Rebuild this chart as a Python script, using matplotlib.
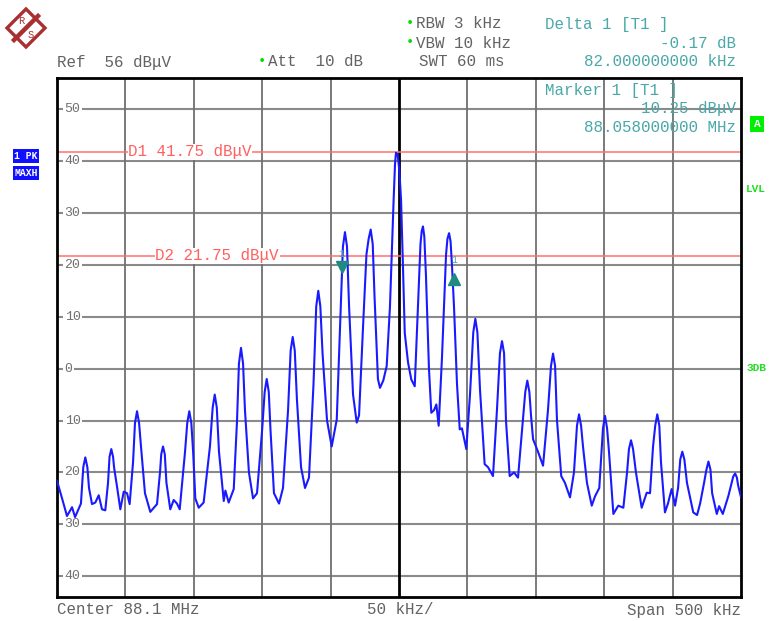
import numpy as np
import matplotlib
matplotlib.use("Agg")
import matplotlib.pyplot as plt
from matplotlib.patches import Polygon
import matplotlib.transforms as mtransforms

# trace: offset from 88.1 MHz (kHz) and level (dBuV)
freq_khz = [-250, -246.3, -242.7, -239, -236.8, -234.1, -232.5, -230.8, -229.3, -227.8,
            -226.6, -224.4, -222, -219.5, -217.1, -214.7, -212.7, -211.6, -210.3, -209,
            -208.3, -206.2, -203.7, -201.2, -198.8, -196.9, -194.4, -193, -191.5, -190,
            -188.6, -185.7, -181.8, -176.9, -174.7, -173.8, -172.5, -171.2, -170, -167.2,
            -164.7, -162.3, -160.3, -156.4, -154.8, -153.3, -151.8, -150.5, -148.9, -146.4,
            -142.8, -138.2, -136.2, -134.7, -133.2, -131.6, -128.1, -126.9, -124.5, -120.8,
            -118.4, -117, -115.5, -114, -112.6, -109.7, -106.7, -103.8, -100.1, -98.2,
            -96.7, -95.2, -93.9, -91.4, -87.7, -84.8, -81.1, -79.2, -77.7, -76.2,
            -74.6, -71.6, -68.7, -65.8, -62.5, -60.5, -59, -57.5, -55.9, -52.6,
            -49.2, -45.5, -42.8, -41, -39.5, -38, -36.5, -33.6, -30.9, -29.2,
            -26.3, -23.8, -22.2, -20.7, -19.2, -17.9, -15.4, -13.9, -11.5, -9,
            -6.6, -4, -2.9, -2.2, -1, 0.3, 1.5, 2.9, 4.2, 6.6,
            9, 11.5, 13.9, 15.7, 16.6, 17.5, 18.5, 19.7, 21.9, 23.6,
            25.6, 27.3, 29, 31.4, 34.4, 35.4, 36.6, 37.7, 38.7, 40.2,
            42.4, 44.4, 46, 49.2, 51.9, 54.3, 55.8, 57.3, 59.2, 62.6,
            65.1, 68.7, 71.6, 73.8, 75.3, 76.8, 78.2, 80.9, 84.1, 87,
            89.9, 92.3, 93.8, 95.3, 96.5, 98, 101.6, 105.3, 108.9, 111.1,
            112.6, 114.1, 115.5, 118.6, 121.3, 125, 127.9, 130.1, 131.6, 133.1,
            134.5, 137.4, 140.9, 143.3, 146.4, 149.1, 150.6, 152.1, 153.5, 156.7,
            160.3, 164, 166.7, 168.1, 169.6, 171.1, 173.2, 177.4, 181.1, 183.5,
            185.7, 187.3, 188.8, 190.3, 191.5, 194.4, 196.6, 199.3, 201.8, 204,
            205.6, 207.1, 208.6, 210.5, 215.1, 217.9, 220.1, 223, 224.7, 226.2,
            227.7, 228.9, 232.3, 234, 236.7, 240.8, 243.2, 244.3, 245.7, 247,
            247.9, 250]
level_dbuv = [-21.6, -25, -28.4, -26.7, -28.6, -27, -26, -19, -17.1, -19,
              -23, -26.1, -25.8, -24.4, -27.1, -27.3, -22, -17, -15.5, -17,
              -19, -22.6, -27.1, -23.7, -24, -26.1, -18, -10.5, -8.2, -10.5,
              -15, -24, -27.6, -26.1, -20, -16.5, -15, -16.5, -22, -27.1,
              -25.3, -26, -27.1, -16, -10.5, -8.2, -10.5, -16, -25, -26.8,
              -25.8, -15, -7.5, -5, -7.5, -16, -25.5, -23.5, -25.8, -23.2,
              -10, 1, 4, 1, -8, -20, -25, -24, -12, -4.5,
              -2, -4.5, -12, -24, -26, -23, -8, 3.5, 6.1, 3.5,
              -6, -19, -23, -21, -3, 12, 15, 12, 3, -10,
              -15, -9.8, 10, 23.5, 26.3, 23.5, 12, -5, -10.4, -9,
              8, 22, 25, 26.8, 24, 14, -2, -3.7, -2.3, 0.5,
              12, 32, 39.5, 41.6, 41.3, 38, 32.5, 19.7, 6.9, 1.2,
              -2.1, -3.4, 12, 24, 26.5, 27.4, 25.5, 18, 0, -8.5,
              -8, -6.9, -11, 2, 22, 25, 26.1, 24.5, 20, 12,
              -3, -11.7, -11.5, -15.5, -5, 7, 9.6, 7, -4, -18.4,
              -19, -20.7, -8, 3, 5.3, 3, -10, -20.7, -20, -21,
              -12, -4.5, -2.3, -4.5, -9, -13.6, -16, -18.7, -8, 0.5,
              2.9, 0.5, -10, -20.7, -22, -24.8, -20, -11, -8.8, -11,
              -15, -22, -26.4, -24.6, -23, -11.5, -9.1, -11.5, -16, -28,
              -26.4, -26.8, -20, -15.5, -13.8, -15.5, -20, -26.8, -23.9, -24,
              -15, -11, -8.8, -11, -18, -27.7, -26, -23.2, -26.4, -23,
              -17.5, -16, -17.5, -22, -27.7, -28.2, -26, -22, -19.5, -17.9,
              -19.5, -24, -28, -26.5, -28, -24.5, -22, -20.8, -20.2, -21,
              -22.5, -24.8]

display_lines = [41.75, 21.75]
display_labels = ["D1 41.75 dB\u03bcV", "D2 21.75 dB\u03bcV"]
display_label_x = [-198, -178]
marker_freq = [-42, 40]
marker_level = [19.5, 17.3]
y_ticks = [50, 40, 30, 20, 10, 0, -10, -20, -30, -40]
y_ticklabels = ["50", "40", "30", "20", "10", "0", "10", "20", "30", "40"]

W, H = 771, 621
mono = "Liberation Mono"
grey = "#636363"
teal = "#4aa8a8"
fs = 11.4

fig = plt.figure(figsize=(W / 100, H / 100), dpi=100)
fig.patch.set_facecolor("white")


def fx(px):
    return px / W


def fy(py):
    return 1 - py / H


ax = fig.add_axes([fx(57), fy(597), fx(741) - fx(57), fy(78) - fy(597)])
ax.set_xlim(-250, 250)
ax.set_ylim(-44, 56)
ax.set_xticks([])
ax.set_yticks([])
for s in ax.spines.values():
    s.set_linewidth(2)
    s.set_color("black")

# grid
for yv in y_ticks:
    ax.axhline(yv, color="#8a8a8a", lw=1.5, zorder=1)
for xv in np.arange(-200, 201, 50):
    if xv == 0:
        ax.axvline(xv, color="black", lw=2, zorder=1)
    else:
        ax.axvline(xv, color="#707070", lw=1.3, zorder=1)

trans = mtransforms.blended_transform_factory(ax.transAxes, ax.transData)
for yv, lab in zip(y_ticks, y_ticklabels):
    ax.text(0.011, yv, lab, transform=trans, ha="left", va="center",
            family=mono, fontsize=9.5, color="#707070", zorder=3,
            bbox=dict(facecolor="white", edgecolor="none", pad=1))

# display lines
for yv, lab, lx in zip(display_lines, display_labels, display_label_x):
    ax.axhline(yv, color="#ff7070", lw=1.1, zorder=2)
    ax.text(lx, yv, lab, ha="left", va="center", family=mono, fontsize=fs,
            color="#ff6060", zorder=3,
            bbox=dict(facecolor="white", edgecolor="none", pad=0.5))

ax.plot(freq_khz, level_dbuv, color="#1a1aff", lw=1.5, zorder=4,
        solid_joinstyle="round")

# markers
ax.plot(marker_freq[0], marker_level[0], marker="v", color="#1f8a80", ms=8, zorder=5)
ax.plot(marker_freq[1], marker_level[1], marker="^", color="#1f8a80", ms=8, zorder=5)
ax.text(marker_freq[0], marker_level[0] + 2.6, "1", ha="center", va="center",
        family=mono, fontsize=7, color=teal, zorder=5)
ax.text(marker_freq[1], marker_level[1] + 3.6, "1", ha="center", va="center",
        family=mono, fontsize=7, color=teal, zorder=5)

# marker readout inside the grid
ax.text(fx(545), fy(90), "Marker 1 [T1 ]", transform=fig.transFigure,
        family=mono, fontsize=fs, color=teal, va="center", ha="left", zorder=3)
ax.text(fx(736), fy(109), "10.25 dB\u03bcV", transform=fig.transFigure,
        family=mono, fontsize=fs, color=teal, va="center", ha="right", zorder=3)
ax.text(fx(736), fy(127), "88.058000000 MHz", transform=fig.transFigure,
        family=mono, fontsize=fs, color=teal, va="center", ha="right", zorder=3)

# header
fig.text(fx(57), fy(62), "Ref  56 dB\u03bcV", family=mono, fontsize=fs, color=grey, va="center")
fig.text(fx(258), fy(61), "\u2022", family=mono, fontsize=10, color="#00dd00", va="center")
fig.text(fx(268), fy(62), "Att  10 dB", family=mono, fontsize=fs, color=grey, va="center")
fig.text(fx(406), fy(23), "\u2022", family=mono, fontsize=10, color="#00dd00", va="center")
fig.text(fx(416), fy(24), "RBW 3 kHz", family=mono, fontsize=fs, color=grey, va="center")
fig.text(fx(406), fy(42), "\u2022", family=mono, fontsize=10, color="#00dd00", va="center")
fig.text(fx(416), fy(43), "VBW 10 kHz", family=mono, fontsize=fs, color=grey, va="center")
fig.text(fx(419), fy(62), "SWT 60 ms", family=mono, fontsize=fs, color=grey, va="center")
fig.text(fx(545), fy(24), "Delta 1 [T1 ]", family=mono, fontsize=fs, color=teal, va="center")
fig.text(fx(736), fy(43), "-0.17 dB", family=mono, fontsize=fs, color=teal, va="center", ha="right")
fig.text(fx(736), fy(62), "82.000000000 kHz", family=mono, fontsize=fs, color=teal, va="center", ha="right")

# footer
fig.text(fx(57), fy(610), "Center 88.1 MHz", family=mono, fontsize=fs, color=grey, va="center")
fig.text(fx(400), fy(610), "50 kHz/", family=mono, fontsize=fs, color=grey, va="center", ha="center")
fig.text(fx(741), fy(610), "Span 500 kHz", family=mono, fontsize=fs, color=grey, va="center", ha="right")

# side labels
fig.text(fx(26), fy(156), "1 PK", family=mono, fontsize=7, weight="bold", color="white",
         va="center", ha="center", bbox=dict(facecolor="#1010ff", edgecolor="none", pad=1.2))
fig.text(fx(26), fy(173), "MAXH", family=mono, fontsize=7, weight="bold", color="white",
         va="center", ha="center", bbox=dict(facecolor="#1010ff", edgecolor="none", pad=1.2))
fig.text(fx(757), fy(124), "A", family=mono, fontsize=8, weight="bold", color="white",
         va="center", ha="center", bbox=dict(facecolor="#00ee00", edgecolor="none", pad=2.5))
fig.text(fx(746), fy(189), "LVL", family=mono, fontsize=8, weight="bold", color="#22dd22", va="center")
fig.text(fx(746), fy(368), "3DB", family=mono, fontsize=8, weight="bold", color="#22dd22", va="center")

# R&S logo
logo_col = "#a83030"
diamond = Polygon([(fx(26), fy(9)), (fx(45), fy(28)), (fx(26), fy(47)), (fx(7), fy(28))],
                  closed=True, transform=fig.transFigure, facecolor="white",
                  edgecolor=logo_col, lw=2.4)
fig.add_artist(diamond)
fig.add_artist(plt.Line2D([fx(14), fx(38)], [fy(40), fy(16)], transform=fig.transFigure,
                          color=logo_col, lw=3.2))
fig.text(fx(21), fy(21), "R", fontsize=7.5, color=logo_col, ha="center", va="center", family=mono)
fig.text(fx(31), fy(35), "S", fontsize=7.5, color=logo_col, ha="center", va="center", family=mono)

fig.savefig("out.png", dpi=100)
